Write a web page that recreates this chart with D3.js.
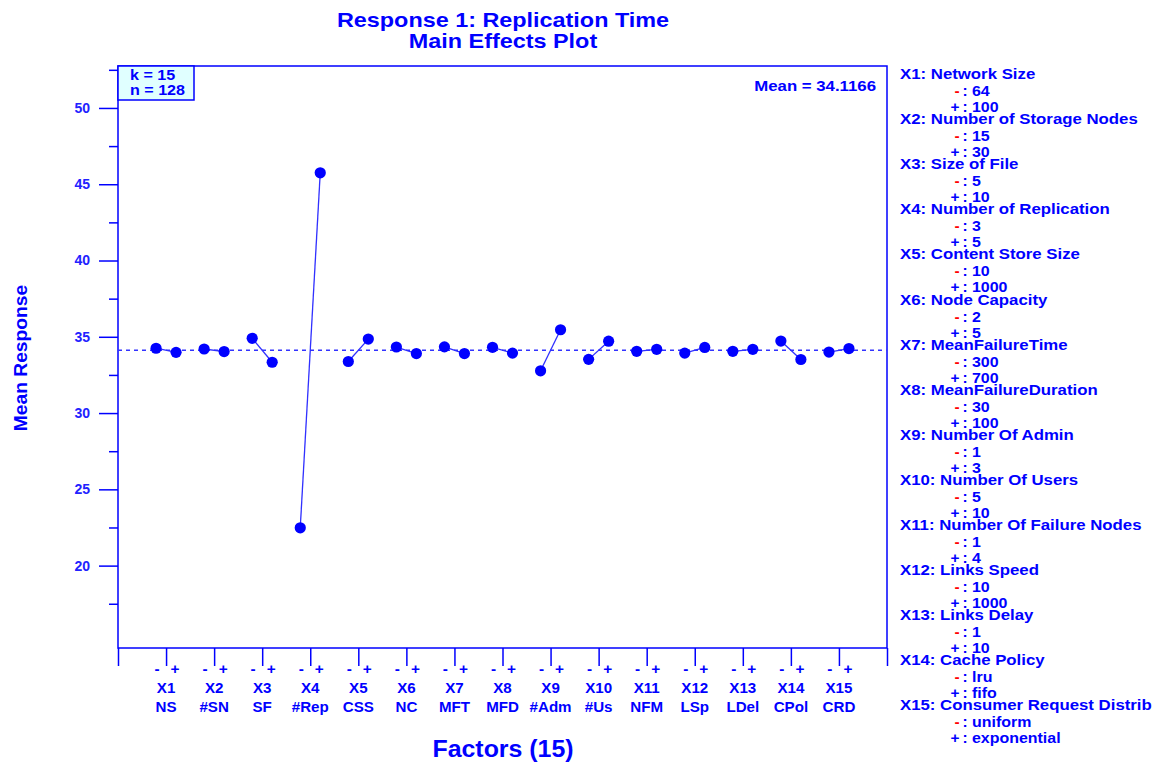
<!DOCTYPE html>
<html>
<head>
<meta charset="utf-8">
<script src="https://cdn.jsdelivr.net/npm/d3@7"></script>
<style>
  html, body { margin: 0; padding: 0; background: #fff; }
  svg { display: block; font-family: "Liberation Sans", Arial, Helvetica, sans-serif; font-weight: bold; }
</style>
</head>
<body>
<svg id="chart" width="1152" height="762"></svg>
<script>
// Factor codes, short names and long names
const factorCodes = ["X1","X2","X3","X4","X5","X6","X7","X8","X9","X10","X11","X12","X13","X14","X15"];
const shortNames  = ["NS","#SN","SF","#Rep","CSS","NC","MFT","MFD","#Adm","#Us","NFM","LSp","LDel","CPol","CRD"];
const longNames   = ["Network Size","Number of Storage Nodes","Size of File","Number of Replication",
                     "Content Store Size","Node Capacity","MeanFailureTime","MeanFailureDuration",
                     "Number Of Admin","Number Of Users","Number Of Failure Nodes","Links Speed",
                     "Links Delay","Cache Policy","Consumer Request Distribution"];
const lowLevels   = ["64","15","5","3","10","2","300","30","1","5","1","10","1","lru","uniform"];
const highLevels  = ["100","30","10","5","1000","5","700","100","3","10","4","1000","10","fifo","exponential"];

// Mean response at the low (-) and high (+) level of each factor
const lowMeans  = [34.25, 34.20, 34.90, 22.48, 33.38, 34.33, 34.34, 34.31, 32.77, 33.52, 34.05, 33.93, 34.05, 34.72, 34.00];
const highMeans = [33.98, 34.03, 33.33, 45.75, 34.85, 33.90, 33.90, 33.93, 35.46, 34.71, 34.18, 34.30, 34.18, 33.51, 34.23];
const grandMean = 34.1166;

const yTickValues = [20, 25, 30, 35, 40, 45, 50];
const yMinorTicks = [17.5, 22.5, 27.5, 32.5, 37.5, 42.5, 47.5, 52.5];

const BLUE = "#0000ff";
const svg = d3.select("#chart");

const x = d3.scaleLinear().domain([0, 16]).range([118, 887]);
const y = d3.scaleLinear().domain([14.6, 52.75]).range([648, 66]);

// Text in the wide bold face used throughout the plot
function wideText(parent, px, py, str, size, sx, anchor, fill) {
  return parent.append("text")
    .attr("transform", `translate(${px},${py}) scale(${sx},1)`)
    .attr("text-anchor", anchor || "start")
    .attr("font-size", size)
    .attr("fill", fill || BLUE)
    .text(str);
}

// Titles
wideText(svg, 503, 27, "Response 1: Replication Time", 19.5, 1.2, "middle");
wideText(svg, 503, 48, "Main Effects Plot", 19.5, 1.2, "middle");

// Plot frame
svg.append("rect")
  .attr("x", x(0)).attr("y", y(52.75))
  .attr("width", x(16) - x(0)).attr("height", y(14.6) - y(52.75))
  .attr("fill", "none").attr("stroke", BLUE).attr("stroke-width", 1.5);

// Left axis: major ticks with labels, minor ticks without
const yAxis = d3.axisLeft(y).tickValues(yTickValues).tickSize(19).tickPadding(9).tickFormat(d3.format("d"));
const gy = svg.append("g").attr("transform", `translate(${x(0)},0)`).call(yAxis);
gy.select(".domain").remove();
gy.selectAll(".tick line").attr("stroke", BLUE).attr("stroke-width", 1.5);
gy.selectAll(".tick text").attr("fill", "#2222ff").attr("font-size", 14).attr("font-weight", "bold")
  .attr("font-family", "Liberation Sans, Arial, sans-serif");

const yMinor = d3.axisLeft(y).tickValues(yMinorTicks).tickSize(9).tickFormat("");
const gym = svg.append("g").attr("transform", `translate(${x(0)},0)`).call(yMinor);
gym.select(".domain").remove();
gym.selectAll(".tick line").attr("stroke", BLUE).attr("stroke-width", 1.5);

// Bottom axis: ticks at factor centres and frame edges
const xTicks = [0].concat(d3.range(1, 16)).concat([16]);
const xAxis = d3.axisBottom(x).tickValues(xTicks).tickSize(18).tickFormat("");
const gx = svg.append("g").attr("transform", `translate(0,${y(14.6)})`).call(xAxis);
gx.select(".domain").remove();
gx.selectAll(".tick line").attr("stroke", BLUE).attr("stroke-width", 1.5);

// Level markers and factor labels under each tick
factorCodes.forEach((code, i) => {
  const cx = x(i + 1);
  const g = svg.append("g");
  wideText(g, cx - 9, 674, "-", 14, 1.1, "middle");
  wideText(g, cx + 9, 674, "+", 14, 1.1, "middle");
  wideText(g, cx, 693, code, 14, 1.08, "middle");
  wideText(g, cx, 712, shortNames[i], 14, 1.08, "middle");
});

// Axis titles
wideText(svg, 503, 757, "Factors (15)", 23.5, 1.06, "middle");
svg.append("text").attr("transform", "translate(27,358) rotate(-90) scale(1.07,1)").attr("text-anchor", "middle")
  .attr("font-size", 18).attr("fill", BLUE).text("Mean Response");

// Grand mean reference line
svg.append("line")
  .attr("x1", x(0)).attr("x2", x(16))
  .attr("y1", y(grandMean)).attr("y2", y(grandMean))
  .attr("stroke", "#3333ff").attr("stroke-width", 1.3).attr("stroke-dasharray", "4,4");

// Effect segments and points
const effects = factorCodes.map((c, i) => ({ i: i + 1, lo: lowMeans[i], hi: highMeans[i] }));
const off = 0.208;
svg.append("g").selectAll("line").data(effects).join("line")
  .attr("x1", d => x(d.i - off)).attr("y1", d => y(d.lo))
  .attr("x2", d => x(d.i + off)).attr("y2", d => y(d.hi))
  .attr("stroke", "#3030ff").attr("stroke-width", 1.3);

const pts = effects.flatMap(d => [{ xv: d.i - off, v: d.lo }, { xv: d.i + off, v: d.hi }]);
svg.append("g").selectAll("circle").data(pts).join("circle")
  .attr("cx", d => x(d.xv)).attr("cy", d => y(d.v)).attr("r", 5.6).attr("fill", BLUE);

// Info box
svg.append("rect").attr("x", x(0)).attr("y", y(52.75)).attr("width", 76).attr("height", 34)
  .attr("fill", "#e0ffff").attr("stroke", BLUE).attr("stroke-width", 1.5);
wideText(svg, 130, 80, "k = 15", 14, 1.15);
wideText(svg, 130, 95, "n = 128", 14, 1.15);
wideText(svg, 876, 91, "Mean = " + grandMean.toFixed(4), 15, 1.12, "end");

// Legend of factor levels
const legend = svg.append("g");
factorCodes.forEach((code, i) => {
  const y0 = 79 + i * 45.1;
  wideText(legend, 900, y0, code + ": " + longNames[i], 15, 1.12);
  wideText(legend, 957, y0 + 17, "-", 14, 1.1, "middle", "#ff0000");
  wideText(legend, 965, y0 + 17, ":", 14, 1.1, "middle");
  wideText(legend, 972, y0 + 17, lowLevels[i], 14.5, 1.1);
  wideText(legend, 955, y0 + 33, "+", 14, 1.1, "middle");
  wideText(legend, 965, y0 + 33, ":", 14, 1.1, "middle");
  wideText(legend, 972, y0 + 33, highLevels[i], 14.5, 1.1);
});
</script>
</body>
</html>
